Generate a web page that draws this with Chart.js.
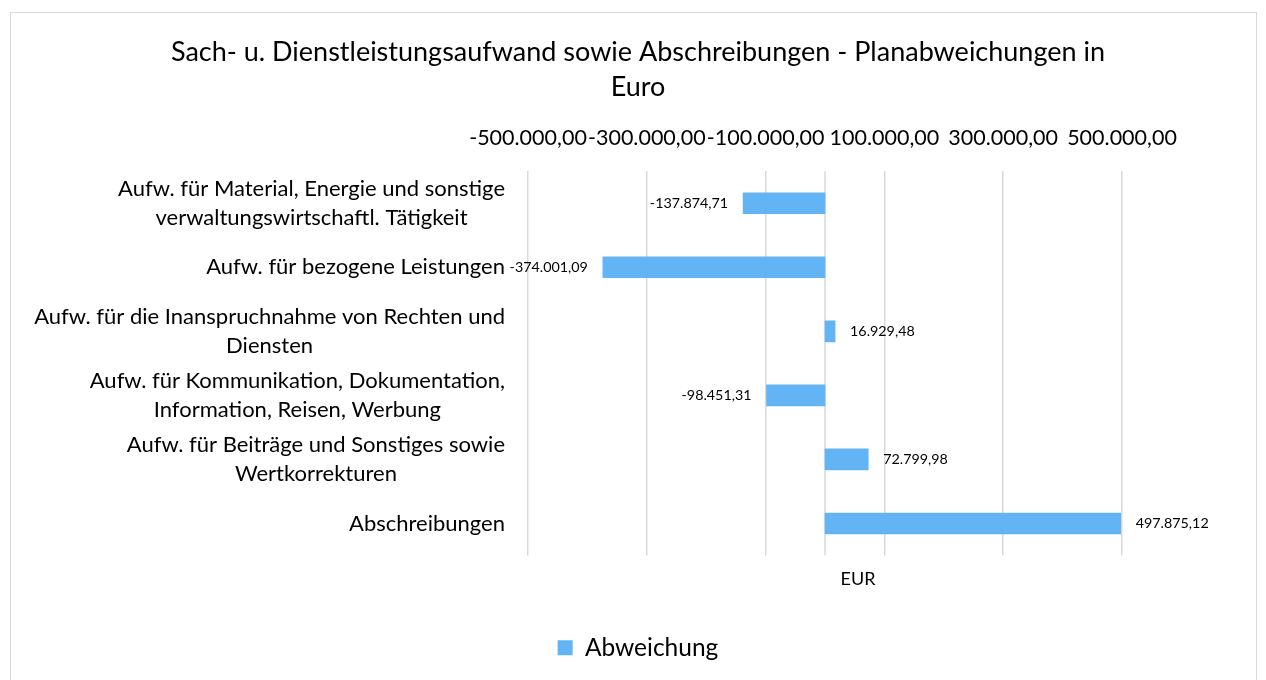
<!DOCTYPE html>
<html>
<head>
<meta charset="utf-8">
<title>Planabweichungen</title>
<script src="https://cdn.jsdelivr.net/npm/chart.js"></script>
<style>
  html, body { margin: 0; padding: 0; background: #fff; overflow: hidden; }
  #frame { position: absolute; left: 10px; top: 12px; width: 1245px; height: 700px; border: 1px solid #d9d9d9; }
  #chart { position: absolute; left: 0; top: 0; }
</style>
</head>
<body>
<div id="frame"></div>
<canvas id="chart" width="1266" height="680"></canvas>
<script>
// data
const categories = [
  ["Aufw. für Material, Energie und sonstige", "verwaltungswirtschaftl. Tätigkeit"],
  ["Aufw. für bezogene Leistungen"],
  ["Aufw. für die Inanspruchnahme von Rechten und", "Diensten"],
  ["Aufw. für Kommunikation, Dokumentation,", "Information, Reisen, Werbung"],
  ["Aufw. für Beiträge und Sonstiges sowie", "Wertkorrekturen"],
  ["Abschreibungen"],
];
const abweichung = [-137874.71, -374001.09, 16929.48, -98451.31, 72799.98, 497875.12];
const xTicks = [-500000, -300000, -100000, 100000, 300000, 500000];
const titleLines = ["Sach- u. Dienstleistungsaufwand sowie Abschreibungen - Planabweichungen in", "Euro"];
const seriesName = "Abweichung";
const axisUnit = "EUR";

const FONT = "Lato, 'Open Sans', sans-serif";
const BLUE = "#63b4f5";

function fmt(v) {
  const neg = v < 0;
  let [i, d] = Math.abs(v).toFixed(2).split(".");
  i = i.replace(/\B(?=(\d{3})+(?!\d))/g, ".");
  return (neg ? "-" : "") + i + "," + d;
}

// zero line, category labels, value labels, unit label
const extras = {
  id: "extras",
  beforeDatasetsDraw(chart) {
    const { ctx, chartArea, scales } = chart;
    const x0 = scales.x.getPixelForValue(0);
    ctx.save();
    ctx.strokeStyle = "#d9d9d9";
    ctx.lineWidth = 1.5;
    ctx.beginPath();
    ctx.moveTo(x0, chartArea.top);
    ctx.lineTo(x0, chartArea.bottom);
    ctx.stroke();
    ctx.restore();
  },
  afterDraw(chart) {
    const { ctx, chartArea, scales } = chart;
    ctx.save();
    ctx.fillStyle = "#000";

    // category labels: block right aligned, lines centered inside it
    ctx.font = "22px " + FONT;
    ctx.textAlign = "center";
    ctx.textBaseline = "middle";
    const right = chartArea.left - 23;
    const lh = 29;
    categories.forEach((lines, i) => {
      const y = scales.y.getPixelForValue(i);
      const w = Math.max(...lines.map(l => ctx.measureText(l).width));
      const cx = right - w / 2;
      lines.forEach((l, k) => {
        ctx.fillText(l, cx, y + (k - (lines.length - 1) / 2) * lh);
      });
    });

    // value labels
    ctx.font = "14.3px " + FONT;
    const meta = chart.getDatasetMeta(0);
    meta.data.forEach((bar, i) => {
      const v = abweichung[i];
      if (v < 0) {
        ctx.textAlign = "right";
        ctx.fillText(fmt(v), bar.x - 15, bar.y);
      } else {
        ctx.textAlign = "left";
        ctx.fillText(fmt(v), bar.x + 15, bar.y);
      }
    });

    // unit label under the plot
    ctx.font = "18px " + FONT;
    ctx.textAlign = "center";
    ctx.fillText(axisUnit, 858, chartArea.bottom + 24);
    ctx.restore();
  }
};

new Chart(document.getElementById("chart"), {
  type: "bar",
  data: {
    labels: categories.map(c => c.join(" ")),
    datasets: [{
      label: seriesName,
      data: abweichung,
      backgroundColor: BLUE,
      borderColor: BLUE,
      borderWidth: 0,
      barThickness: 21,
    }],
  },
  options: {
    indexAxis: "y",
    responsive: false,
    animation: false,
    devicePixelRatio: 1,
    layout: { padding: { left: 10, right: 0, top: 0, bottom: 10 } },
    scales: {
      x: {
        position: "top",
        min: -500000,
        max: 500000,
        afterBuildTicks: s => { s.ticks = xTicks.map(v => ({ value: v })); },
        afterFit: s => { s.height = 66; },
        ticks: {
          autoSkip: false,
          maxRotation: 0,
          padding: 20,
          color: "#000",
          font: { family: FONT, size: 21.5 },
          callback: v => fmt(v),
        },
        grid: { color: "#d9d9d9", lineWidth: 1.5, drawTicks: false },
        border: { display: false },
      },
      xB: {
        position: "bottom",
        axis: "x",
        type: "linear",
        min: 0, max: 1,
        ticks: { display: false },
        grid: { display: false, drawTicks: false },
        border: { display: false },
        afterFit: s => { s.height = 70; },
      },
      y: {
        ticks: { display: false },
        grid: { display: false, drawTicks: false },
        border: { display: false },
        afterFit: s => { s.width = 518; },
      },
      yR: {
        position: "right",
        axis: "y",
        type: "linear",
        min: 0, max: 1,
        ticks: { display: false },
        grid: { display: false, drawTicks: false },
        border: { display: false },
        afterFit: s => { s.width = 144; },
      },
    },
    plugins: {
      title: {
        display: true,
        text: titleLines,
        color: "#000",
        font: { family: FONT, size: 27, weight: "normal", lineHeight: 1.3 },
        padding: { top: 35, bottom: 0 },
      },
      legend: {
        position: "bottom",
        labels: {
          color: "#000",
          font: { family: FONT, size: 24.5 },
          boxWidth: 15,
          boxHeight: 15,
          padding: 10,
        },
      },
      tooltip: { enabled: false },
    },
  },
  plugins: [extras],
});
</script>
</body>
</html>
